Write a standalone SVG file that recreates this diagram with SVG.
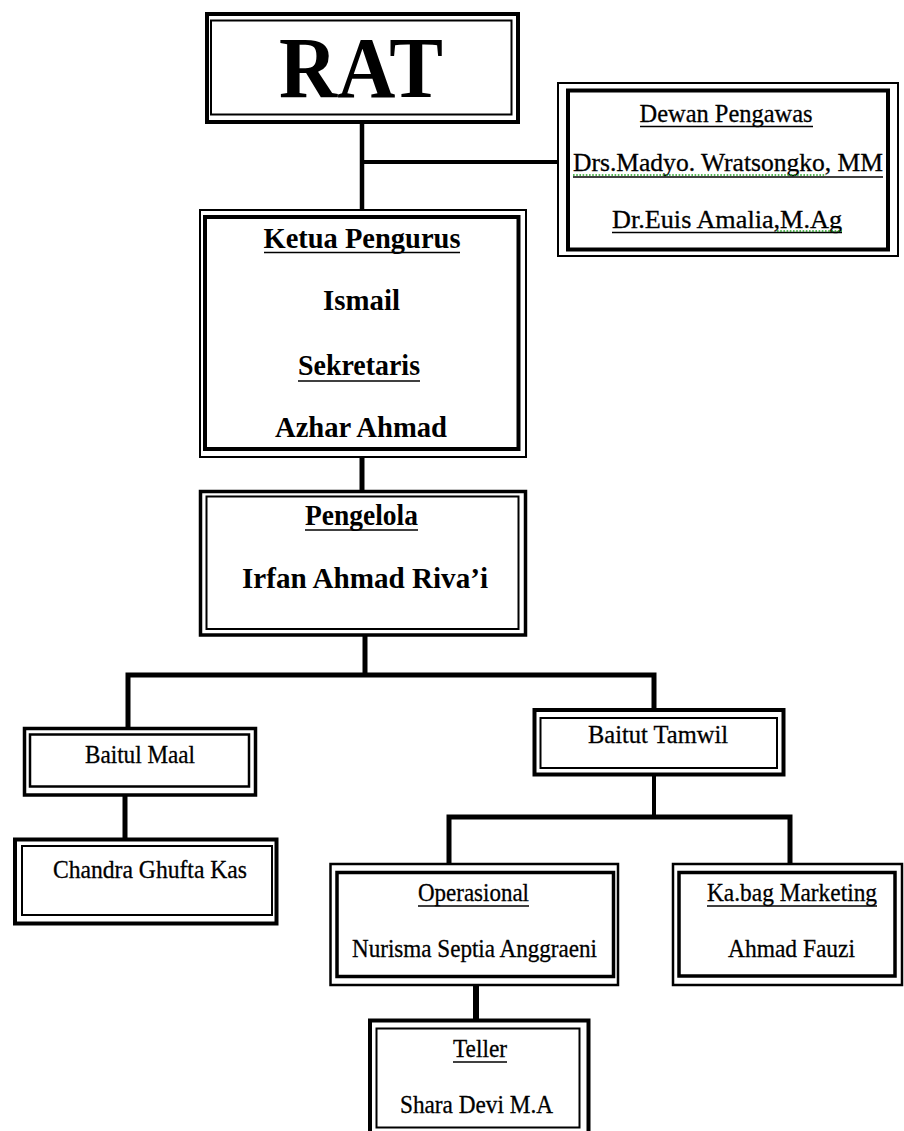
<svg xmlns="http://www.w3.org/2000/svg" width="904" height="1131" viewBox="0 0 904 1131">
<style>
.bg{fill:#fff}
.b{fill:none;stroke:#000}
.c{fill:none;stroke:#000;stroke-linejoin:miter;stroke-linecap:butt}
.t{font-family:"Liberation Serif","Times New Roman",serif;fill:#000;text-anchor:middle}
.r{font-size:25px;stroke:#000;stroke-width:0.3}
.bd{font-size:30px;font-weight:bold}
.u{stroke:#000;stroke-width:1.6}
.sp{stroke:#1f9e1f;stroke-width:1.6;stroke-dasharray:1.6 1.6}
</style>
<rect class="bg" x="0" y="0" width="904" height="1131"/>
<g id="connectors">
<path class="c" stroke-width="4.5" d="M362 124 V211"/>
<path class="c" stroke-width="4" d="M362 162 H558"/>
<path class="c" stroke-width="5" d="M362 457 V491"/>
<path class="c" stroke-width="5" d="M365 636 V675"/>
<path class="c" stroke-width="5" d="M128 729 V675 H654 V710"/>
<path class="c" stroke-width="5" d="M125 795 V839"/>
<path class="c" stroke-width="4" d="M654 775 V817"/>
<path class="c" stroke-width="5" d="M449 864 V817 H790 V864"/>
<path class="c" stroke-width="6" d="M476 985 V1020"/>
</g>
<g id="rat">
<rect class="b" stroke-width="4" x="207" y="14" width="311" height="108"/>
<rect class="b" stroke-width="2" x="211" y="20.5" width="300.5" height="94"/>
<text class="t" x="361" y="97" font-size="86" font-weight="bold" textLength="164" lengthAdjust="spacingAndGlyphs">RAT</text>
</g>
<g id="dewan-pengawas">
<rect class="b" stroke-width="2" x="558" y="83" width="340" height="173"/>
<rect class="b" stroke-width="4" x="568" y="90.5" width="320" height="159"/>
<text class="t r" x="726" y="122" textLength="173" lengthAdjust="spacingAndGlyphs">Dewan Pengawas</text>
<line class="u" x1="640" y1="126.5" x2="813" y2="126.5"/>
<text class="t r" x="728" y="171" textLength="310" lengthAdjust="spacingAndGlyphs">Drs.Madyo.  Wratsongko,  MM</text>
<line class="u" x1="573" y1="177" x2="883" y2="177"/>
<line class="sp" x1="573" y1="175" x2="826" y2="175"/>
<text class="t r" x="727" y="228" textLength="230" lengthAdjust="spacingAndGlyphs">Dr.Euis Amalia,M.Ag</text>
<line class="u" x1="612" y1="232.5" x2="842" y2="232.5"/>
<line class="sp" x1="777" y1="231" x2="842" y2="231"/>
</g>
<g id="ketua-pengurus">
<rect class="b" stroke-width="2" x="200" y="210" width="326" height="247"/>
<rect class="b" stroke-width="4" x="205" y="217" width="313.5" height="232"/>
<text class="t bd" x="362" y="248" textLength="197" lengthAdjust="spacingAndGlyphs">Ketua Pengurus</text>
<line class="u" x1="264" y1="252.5" x2="460" y2="252.5"/>
<text class="t bd" x="361.5" y="310" textLength="77" lengthAdjust="spacingAndGlyphs">Ismail</text>
<text class="t bd" x="359" y="375" textLength="122" lengthAdjust="spacingAndGlyphs">Sekretaris</text>
<line class="u" x1="298" y1="381" x2="420" y2="381"/>
<text class="t bd" x="361" y="437" textLength="172" lengthAdjust="spacingAndGlyphs">Azhar Ahmad</text>
</g>
<g id="pengelola">
<rect class="b" stroke-width="3.5" x="200.5" y="491.5" width="325" height="143.5"/>
<rect class="b" stroke-width="2" x="206.5" y="496.5" width="312" height="132.5"/>
<text class="t bd" x="361.5" y="525" textLength="113" lengthAdjust="spacingAndGlyphs">Pengelola</text>
<line class="u" x1="305" y1="530" x2="418" y2="530"/>
<text class="t bd" x="365" y="588" textLength="246" lengthAdjust="spacingAndGlyphs">Irfan Ahmad Riva’i</text>
</g>
<g id="baitul-maal">
<rect class="b" stroke-width="3.5" x="24.5" y="728.5" width="231" height="66.5"/>
<rect class="b" stroke-width="2.5" x="30" y="734.5" width="219" height="52"/>
<text class="t r" x="140" y="763" textLength="110" lengthAdjust="spacingAndGlyphs">Baitul Maal</text>
</g>
<g id="chandra">
<rect class="b" stroke-width="4" x="15" y="839.5" width="261.5" height="84"/>
<rect class="b" stroke-width="2" x="22" y="846" width="250" height="69"/>
<text class="t r" x="150" y="878" textLength="194" lengthAdjust="spacingAndGlyphs">Chandra Ghufta Kas</text>
</g>
<g id="baitut-tamwil">
<rect class="b" stroke-width="4" x="534.5" y="710" width="249" height="64.5"/>
<rect class="b" stroke-width="2" x="540.5" y="718" width="236.5" height="50"/>
<text class="t r" x="658" y="743" textLength="140" lengthAdjust="spacingAndGlyphs">Baitut Tamwil</text>
</g>
<g id="operasional">
<rect class="b" stroke-width="2.5" x="330.5" y="864" width="287.5" height="121"/>
<rect class="b" stroke-width="3.5" x="337" y="872.5" width="276.5" height="104"/>
<text class="t r" x="473.5" y="901" textLength="111" lengthAdjust="spacingAndGlyphs">Operasional</text>
<line class="u" x1="418" y1="906" x2="529" y2="906"/>
<text class="t r" x="474.5" y="957" textLength="245" lengthAdjust="spacingAndGlyphs">Nurisma Septia Anggraeni</text>
</g>
<g id="kabag-marketing">
<rect class="b" stroke-width="2.5" x="673" y="864" width="229" height="121"/>
<rect class="b" stroke-width="3.5" x="679" y="872.5" width="216" height="103.5"/>
<text class="t r" x="792" y="901" textLength="170" lengthAdjust="spacingAndGlyphs">Ka.bag Marketing</text>
<line class="u" x1="707" y1="906" x2="877" y2="906"/>
<text class="t r" x="791.5" y="957" textLength="127" lengthAdjust="spacingAndGlyphs">Ahmad Fauzi</text>
</g>
<g id="teller">
<rect class="b" stroke-width="4" x="370" y="1020.5" width="218.5" height="130"/>
<rect class="b" stroke-width="2" x="376.5" y="1028.5" width="203" height="99"/>
<text class="t r" x="480" y="1057" textLength="54" lengthAdjust="spacingAndGlyphs">Teller</text>
<line class="u" x1="453" y1="1062" x2="507" y2="1062"/>
<text class="t r" x="476.5" y="1113" textLength="153" lengthAdjust="spacingAndGlyphs">Shara Devi M.A</text>
</g>
</svg>
